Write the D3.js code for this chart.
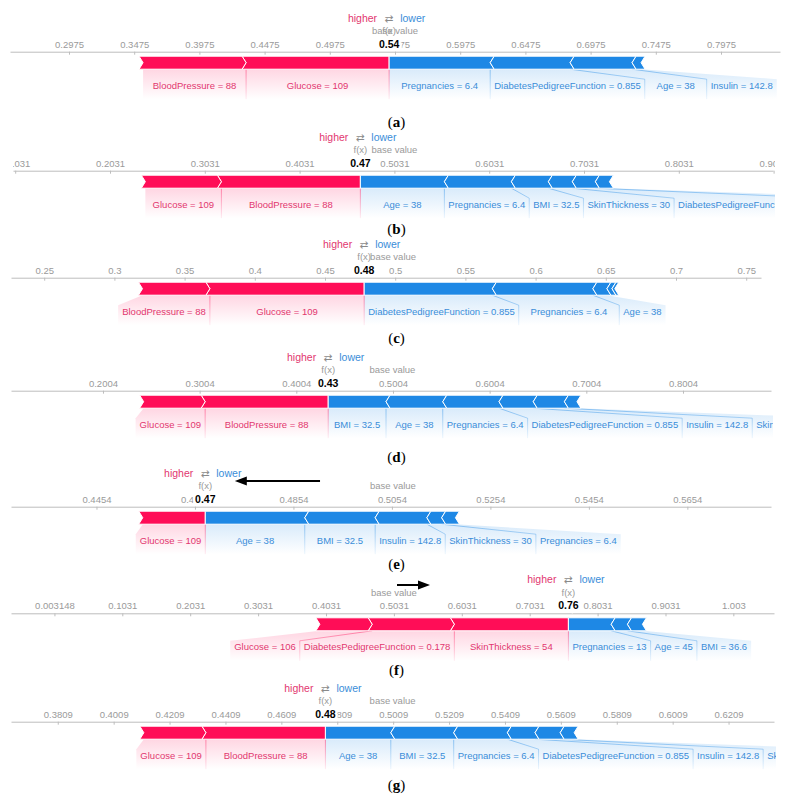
<!DOCTYPE html>
<html><head><meta charset="utf-8">
<script src="https://cdn.jsdelivr.net/npm/d3@7"></script>
<style>html,body{margin:0;padding:0;background:#fff} svg{display:block}</style>
</head><body>
<svg id="chart" width="793" height="803"></svg>
<script>
// ---------------- data ----------------
const panelIds = ["a", "b", "c", "d", "e", "f", "g"];
const baseValues = [0.5475, 0.5031, 0.4985, 0.4998, 0.5056, 0.5031, 0.5007];

const ticksA = ["0.2975","0.3475","0.3975","0.4475","0.4975","0.5475","0.5975","0.6475","0.6975","0.7475","0.7975"];
const ticksB = ["0.1031","0.2031","0.3031","0.4031","0.5031","0.6031","0.7031","0.8031","0.9031"];
const ticksC = ["0.25","0.3","0.35","0.4","0.45","0.5","0.55","0.6","0.65","0.7","0.75"];
const ticksD = ["0.2004","0.3004","0.4004","0.5004","0.6004","0.7004","0.8004"];
const ticksE = ["0.4454","0.4654","0.4854","0.5054","0.5254","0.5454","0.5654"];
const ticksF = ["0.003148","0.1031","0.2031","0.3031","0.4031","0.5031","0.6031","0.7031","0.8031","0.9031","1.003"];
const ticksG = ["0.3809","0.4009","0.4209","0.4409","0.4609","0.4809","0.5009","0.5209","0.5409","0.5609","0.5809","0.6009","0.6209"];

// [feature label, SHAP value]  (positive = pushes higher, negative = pushes lower)
const featuresA = [["Glucose = 109", 0.1097], ["BloodPressure = 88", 0.0790],
  ["Pregnancies = 6.4", -0.0775], ["DiabetesPedigreeFunction = 0.855", -0.0613], ["Age = 38", -0.0475], ["Insulin = 142.8", -0.0069]];
const featuresB = [["BloodPressure = 88", 0.1466], ["Glucose = 109", 0.0802],
  ["Age = 38", -0.0886], ["Pregnancies = 6.4", -0.0707], ["BMI = 32.5", -0.0390], ["SkinThickness = 30", -0.0253],
  ["DiabetesPedigreeFunction = 0.855", -0.0243], ["Insulin = 142.8", -0.0148]];
const featuresC = [["Glucose = 109", 0.1099], ["BloodPressure = 88", 0.0480],
  ["DiabetesPedigreeFunction = 0.855", -0.0913], ["Pregnancies = 6.4", -0.0716], ["Age = 38", -0.0100],
  ["BMI = 32.5", -0.0036], ["SkinThickness = 30", -0.0020]];
const featuresD = [["BloodPressure = 88", 0.1273], ["Glucose = 109", 0.0636],
  ["BMI = 32.5", -0.0598], ["Age = 38", -0.0587], ["Pregnancies = 6.4", -0.0582],
  ["DiabetesPedigreeFunction = 0.855", -0.0354], ["Insulin = 142.8", -0.0322], ["SkinThickness = 30", -0.0130]];
const featuresE = [["Glucose = 109", 0.0127],
  ["Age = 38", -0.0202], ["BMI = 32.5", -0.0143], ["Insulin = 142.8", -0.0105], ["SkinThickness = 30", -0.0030], ["Pregnancies = 6.4", -0.0028]];
const featuresF = [["SkinThickness = 54", 0.168], ["DiabetesPedigreeFunction = 0.178", 0.121], ["Glucose = 106", 0.077],
  ["Pregnancies = 13", -0.063], ["Age = 45", -0.024], ["BMI = 36.6", -0.022]];
const featuresG = [["BloodPressure = 88", 0.04276], ["Glucose = 109", 0.0222],
  ["Age = 38", -0.0234], ["BMI = 32.5", -0.0225], ["Pregnancies = 6.4", -0.0192],
  ["DiabetesPedigreeFunction = 0.855", -0.0099], ["Insulin = 142.8", -0.0090], ["SkinThickness = 30", -0.0050]];

const allTicks = [ticksA, ticksB, ticksC, ticksD, ticksE, ticksF, ticksG];
const allFeatures = [featuresA, featuresB, featuresC, featuresD, featuresE, featuresF, featuresG];

// annotation arrows (in data units of the panel)
const arrowPanels = [4, 5];
const arrowFrom = [0.4908, 0.5077];
const arrowTo = [0.4735, 0.5563];

// ---------------- layout ----------------
const layout = [
  {axisY: 51.7,  L: 10, R: 780, baseX: 395.0, ppu: 1304,  capY: 122},
  {axisY: 170.7, L: 13, R: 773, baseX: 394.4, ppu: 948,   capY: 229},
  {axisY: 277.7, L: 11, R: 761, baseX: 393.1, ppu: 1404,  capY: 338},
  {axisY: 390.7, L: 11, R: 771, baseX: 392.4, ppu: 966.7, capY: 457},
  {axisY: 506.7, L: 11, R: 771, baseX: 392.9, ppu: 4924,  capY: 564},
  {axisY: 613.3, L: 11, R: 774, baseX: 393.9, ppu: 679,   capY: 670},
  {axisY: 721.7, L: 11, R: 774, baseX: 392.6, ppu: 2795,  capY: 785}
];
const arrowDy = [-25.7, -28.3];

const RED = "#ff0d57", BLUE = "#1e88e5";
const RED_TXT = "#e2376f", BLUE_TXT = "#3a8dd9";
const FONT = "'Liberation Sans', Arial, Helvetica, sans-serif";
const SERIF = "'Liberation Serif', 'Times New Roman', serif";

const svg = d3.select("#chart");
svg.append("rect").attr("width", 793).attr("height", 803).attr("fill", "#fff");
const defs = svg.append("defs");
const scales = [];

function grad(id, color, y1, y2, o1, o2) {
  const gr = defs.append("linearGradient").attr("id", id)
    .attr("gradientUnits", "userSpaceOnUse").attr("x1", 0).attr("x2", 0).attr("y1", y1).attr("y2", y2);
  gr.append("stop").attr("offset", "0%").attr("stop-color", color).attr("stop-opacity", o1);
  gr.append("stop").attr("offset", "100%").attr("stop-color", color).attr("stop-opacity", o2);
}

panelIds.forEach((pid, i) => {
  const lay = layout[i];
  const base = baseValues[i];
  const ticks = allTicks[i];
  const feats = allFeatures[i];
  const ay = lay.axisY;

  const x = d3.scaleLinear()
    .domain([base + (lay.L - lay.baseX) / lay.ppu, base + (lay.R - lay.baseX) / lay.ppu])
    .range([lay.L, lay.R]);
  scales.push(x);

  defs.append("clipPath").attr("id", "clip" + i).append("rect")
    .attr("x", lay.L).attr("y", ay - 48).attr("width", lay.R - lay.L + 2).attr("height", 96);

  const barTop = ay + 4.5, barH = 13, bb = barTop + barH, mid = barTop + barH / 2;
  const H = 30, slant = 10, s = 4;

  grad("bgr" + i, RED, bb, bb + H, 0.17, 0);
  grad("bgb" + i, BLUE, bb, bb + H, 0.17, 0);
  grad("lnr" + i, RED, bb, bb + H, 0.45, 0.08);
  grad("lnb" + i, BLUE, bb, bb + H, 0.45, 0.08);

  const g = svg.append("g").attr("clip-path", `url(#clip${i})`);

  // axis
  const ax = g.append("g").attr("transform", `translate(0,${ay})`)
    .call(d3.axisTop(x).tickValues(ticks.map(Number)).tickFormat((d, j) => ticks[j])
      .tickSize(-3).tickSizeOuter(0).tickPadding(4));
  ax.attr("font-family", FONT).attr("font-size", 9.5);
  ax.select(".domain").attr("stroke", "#bdbdbd");
  ax.selectAll(".tick line").attr("stroke", "#bdbdbd");
  ax.selectAll(".tick text").attr("fill", "#9a9a9a");

  const backG = g.append("g");
  const linkG = g.append("g");
  const barG = g.append("g");
  const labG = g.append("g").attr("font-family", FONT).attr("font-size", 9.5);

  const fx = base + d3.sum(feats, d => d[1]);
  const pos = feats.filter(d => d[1] > 0).map(d => ({label: d[0], eff: d[1], side: "r"})).sort((a, b) => b.eff - a.eff);
  const neg = feats.filter(d => d[1] < 0).map(d => ({label: d[0], eff: -d[1], side: "b"})).sort((a, b) => b.eff - a.eff);
  let c = fx;
  pos.forEach((d, k) => { d.hi = c; d.lo = c - d.eff; c = d.lo; d.first = k === 0; });
  c = fx;
  neg.forEach((d, k) => { d.lo = c; d.hi = c + d.eff; c = d.hi; d.first = k === 0; });

  // bars
  pos.forEach(d => {
    const a = x(d.lo), b = x(d.hi);
    const p = d.first
      ? `M${a - s},${barTop} L${b},${barTop} L${b},${bb} L${a - s},${bb} L${a},${mid} Z`
      : `M${a - s},${barTop} L${b - s},${barTop} L${b},${mid} L${b - s},${bb} L${a - s},${bb} L${a},${mid} Z`;
    barG.append("path").attr("d", p).attr("fill", RED).attr("stroke", "#fff").attr("stroke-width", 1);
  });
  neg.forEach(d => {
    const a = x(d.lo), b = x(d.hi);
    const p = d.first
      ? `M${a},${barTop} L${b + s},${barTop} L${b},${mid} L${b + s},${bb} L${a},${bb} Z`
      : `M${a + s},${barTop} L${b + s},${barTop} L${b},${mid} L${b + s},${bb} L${a + s},${bb} L${a},${mid} Z`;
    barG.append("path").attr("d", p).attr("fill", BLUE).attr("stroke", "#fff").attr("stroke-width", 1);
  });

  // labels with box layout (pushed outward from f(x) when they do not fit)
  function place(list, dir) {
    let edge = x(fx);
    list.forEach(d => {
      const segW = Math.abs(x(d.hi) - x(d.lo));
      if (segW < 7) { d.show = false; return; }
      d.show = true;
      const t = labG.append("text").text(d.label).attr("text-anchor", "middle")
        .attr("y", ay + 37).attr("fill", dir < 0 ? RED_TXT : BLUE_TXT);
      const tw = t.node().getComputedTextLength();
      const w = Math.max(segW, tw + 8);
      if (dir < 0) { d.bR = edge; d.bL = edge - w; edge = d.bL; }
      else { d.bL = edge; d.bR = edge + w; edge = d.bR; }
      t.attr("x", (d.bL + d.bR) / 2);
    });
  }
  place(pos, -1);
  place(neg, 1);

  [...pos, ...neg].filter(d => d.show).forEach(d => {
    const sa = x(d.lo), sb = x(d.hi);
    backG.append("path")
      .attr("d", `M${sa},${bb} L${sb},${bb} L${d.bR},${bb + slant} L${d.bR},${bb + H} L${d.bL},${bb + H} L${d.bL},${bb + slant} Z`)
      .attr("fill", `url(#bg${d.side}${i})`);
  });

  const shownPos = pos.filter(d => d.show), shownNeg = neg.filter(d => d.show);
  shownPos.slice(0, -1).forEach(d => {
    linkG.append("path").attr("d", `M${x(d.lo)},${bb} L${d.bL},${bb + slant} L${d.bL},${bb + H}`)
      .attr("fill", "none").attr("stroke", `url(#lnr${i})`).attr("stroke-width", 1);
  });
  shownNeg.slice(0, -1).forEach(d => {
    linkG.append("path").attr("d", `M${x(d.hi)},${bb} L${d.bR},${bb + slant} L${d.bR},${bb + H}`)
      .attr("fill", "none").attr("stroke", `url(#lnb${i})`).attr("stroke-width", 1);
  });
  linkG.append("path").attr("d", `M${x(fx)},${bb} L${x(fx)},${bb + H}`)
    .attr("fill", "none").attr("stroke", `url(#lnr${i})`).attr("stroke-width", 1);

  // header texts
  const X = x(fx);
  const tg = g.append("g").attr("font-family", FONT);
  tg.append("text").attr("x", X - 12).attr("y", ay - 30).attr("text-anchor", "end")
    .attr("font-size", 10.5).attr("fill", RED_TXT).text("higher");
  tg.append("text").attr("x", X).attr("y", ay - 30).attr("text-anchor", "middle")
    .attr("font-size", 10.5).attr("fill", "#8a8a8a").attr("font-family", "'DejaVu Sans', sans-serif").text("\u21C4");
  tg.append("text").attr("x", X + 11).attr("y", ay - 30)
    .attr("font-size", 10.5).attr("fill", BLUE_TXT).text("lower");
  tg.append("text").attr("x", X).attr("y", ay - 17.6).attr("text-anchor", "middle")
    .attr("font-size", 9.5).attr("fill", "#9a9a9a").text("f(x)");
  tg.append("text").attr("x", x(base)).attr("y", ay - 17.6).attr("text-anchor", "middle")
    .attr("font-size", 9.5).attr("fill", "#9a9a9a").text("base value");
  tg.append("text").attr("x", X).attr("y", ay - 4).attr("text-anchor", "middle")
    .attr("font-size", 10.5).attr("font-weight", "bold").attr("fill", "#000")
    .attr("stroke", "#fff").attr("stroke-width", 5).attr("paint-order", "stroke")
    .text(d3.format(".2f")(fx));

  // caption
  const cap = svg.append("text").attr("x", 396.5).attr("y", lay.capY + 5).attr("text-anchor", "middle")
    .attr("font-family", SERIF).attr("font-size", 15).attr("fill", "#000");
  cap.append("tspan").text("(");
  cap.append("tspan").attr("font-weight", "bold").text(pid);
  cap.append("tspan").text(")");
});

// annotation arrows
arrowPanels.forEach((pi, k) => {
  const x = scales[pi];
  const y = layout[pi].axisY + arrowDy[k];
  const x0 = x(arrowFrom[k]), x1 = x(arrowTo[k]);
  const dir = Math.sign(x1 - x0);
  const hl = 12, hw = 4.5;
  svg.append("line").attr("x1", x0).attr("y1", y).attr("x2", x1 - dir * (hl - 2)).attr("y2", y)
    .attr("stroke", "#000").attr("stroke-width", 2);
  svg.append("path").attr("d", `M${x1},${y} L${x1 - dir * hl},${y - hw} L${x1 - dir * hl},${y + hw} Z`).attr("fill", "#000");
});
</script>
</body></html>
